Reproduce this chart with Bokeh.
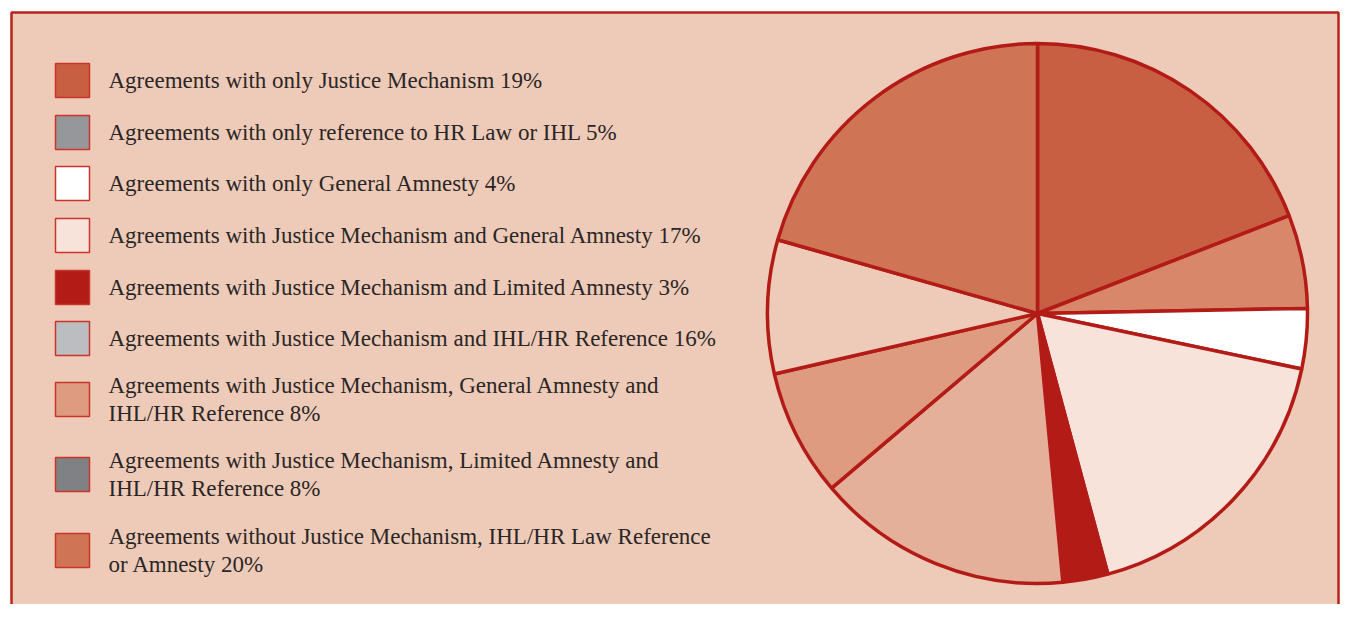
import math
from bokeh.plotting import figure
from bokeh.models import Range1d, ColumnDataSource
from bokeh.core.properties import value
from bokeh.embed import file_html
from bokeh.resources import INLINE

# ---- data ----
labels = [
    "Agreements with only Justice Mechanism 19%",
    "Agreements with only reference to HR Law or IHL 5%",
    "Agreements with only General Amnesty 4%",
    "Agreements with Justice Mechanism and General Amnesty 17%",
    "Agreements with Justice Mechanism and Limited Amnesty 3%",
    "Agreements with Justice Mechanism and IHL/HR Reference 16%",
    "Agreements with Justice Mechanism, General Amnesty and\nIHL/HR Reference 8%",
    "Agreements with Justice Mechanism, Limited Amnesty and\nIHL/HR Reference 8%",
    "Agreements without Justice Mechanism, IHL/HR Law Reference\nor Amnesty 20%",
]
# slice sizes (labels show rounded figures)
shares = [19.1, 5.6, 3.6, 17.5, 2.7, 15.3, 7.6, 8.0, 20.6]
legend_colors = ["#C85F43", "#96979B", "#FFFFFF", "#F7E3D9", "#B31B17",
                 "#BCBDC1", "#DF9B80", "#808185", "#CF7556"]
slice_colors = ["#C85F43", "#D8876B", "#FFFFFF", "#F7E3D9", "#B31B17",
                "#E5B09A", "#DF9B80", "#EECBB8", "#CF7556"]

# ---- layout (pixel-like coordinates, y measured from top) ----
W, H = 1341, 604
def Y(py):
    return H - py

legend_row_y = [80, 132, 183, 235, 287, 338, 399, 474, 550]

p = figure(width=W, height=H, output_backend="svg", toolbar_location=None,
           x_range=Range1d(0, W), y_range=Range1d(0, H),
           min_border=0, outline_line_color=None)
p.axis.visible = False
p.grid.visible = False
p.background_fill_color = "white"
p.border_fill_color = "white"

# panel
p.quad(left=[11], right=[1338], top=[Y(12)], bottom=[Y(640)],
       fill_color="#EECBB8", line_color="#B8231C", line_width=2.5)

# pie
total = float(sum(shares))
starts, ends = [], []
acc = 0.0
for v in shares:
    starts.append(math.pi / 2 - 2 * math.pi * acc / total)
    acc += v
    ends.append(math.pi / 2 - 2 * math.pi * acc / total)
pie_src = ColumnDataSource(dict(start=starts, end=ends, color=slice_colors))
p.wedge(x=1037, y=Y(313), radius=270, start_angle="start", end_angle="end",
        direction="clock", fill_color="color", line_color="#B31B17",
        line_width=3.5, source=pie_src)

# legend
leg_src = ColumnDataSource(dict(
    x=[72] * len(labels), y=[Y(v) for v in legend_row_y],
    tx=[108] * len(labels), label=labels, color=legend_colors))
p.rect(x="x", y="y", width=34, height=34, fill_color="color",
       line_color="#C9342B", line_width=1.5, source=leg_src)
p.text(x="tx", y="y", text="label", text_font=value("Liberation Serif"),
       text_font_size="23px", text_color="#2B2626", text_baseline="middle",
       text_line_height=1.13, source=leg_src)

open("out.html", "w").write(file_html(p, INLINE))
